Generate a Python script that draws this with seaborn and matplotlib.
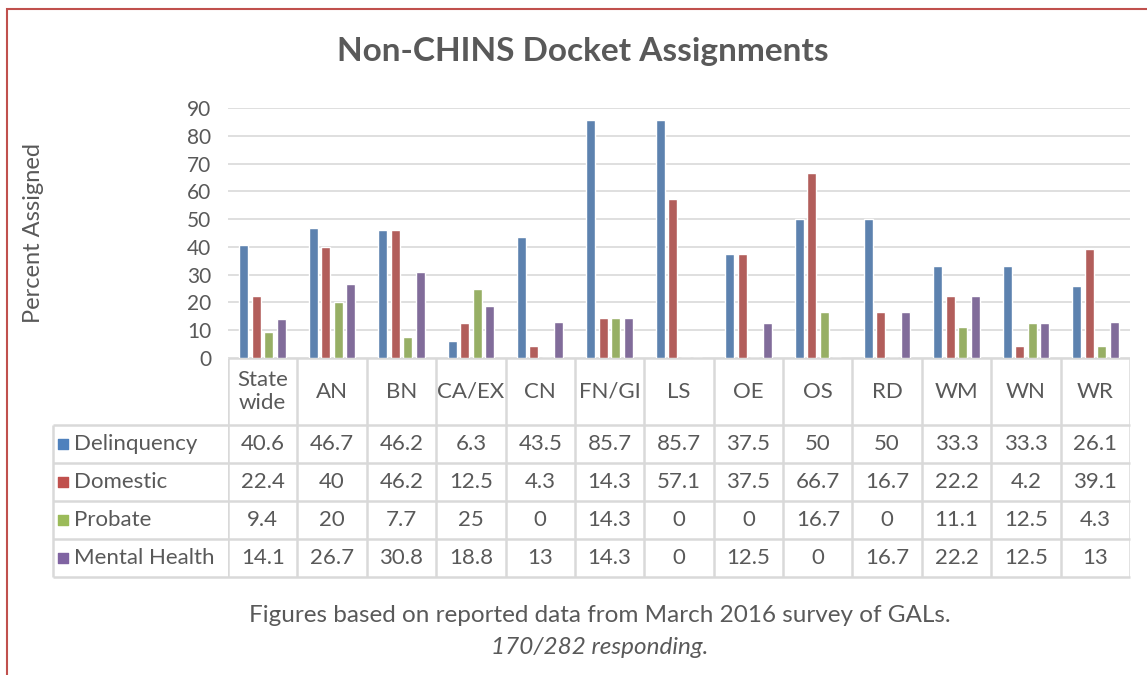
import pandas as pd
import matplotlib.pyplot as plt
import seaborn as sns
from matplotlib.patches import Rectangle

regions = ["State\nwide", "AN", "BN", "CA/EX", "CN", "FN/GI", "LS", "OE", "OS", "RD", "WM", "WN", "WR"]
series = ["Delinquency", "Domestic", "Probate", "Mental Health"]
delinquency = [40.6, 46.7, 46.2, 6.3, 43.5, 85.7, 85.7, 37.5, 50, 50, 33.3, 33.3, 26.1]
domestic = [22.4, 40, 46.2, 12.5, 4.3, 14.3, 57.1, 37.5, 66.7, 16.7, 22.2, 4.2, 39.1]
probate = [9.4, 20, 7.7, 25, 0, 14.3, 0, 0, 16.7, 0, 11.1, 12.5, 4.3]
mental_health = [14.1, 26.7, 30.8, 18.8, 13, 14.3, 0, 12.5, 0, 16.7, 22.2, 12.5, 13]
colors = ["#4F81BD", "#C0504D", "#9BBB59", "#8064A2"]

values = [delinquency, domestic, probate, mental_health]
df = pd.DataFrame({
    "Region": regions * 4,
    "Series": [s for s in series for _ in regions],
    "Value": [v for vals in values for v in vals],
})

sns.set_theme(style="white")
plt.rcParams["font.family"] = ["Lato", "DejaVu Sans"]
txt = "#595959"
grid = "#D9D9D9"

W, H = 1147, 675
fig = plt.figure(figsize=(W / 100, H / 100), dpi=100)
left, right, top, zero, tbot = 228, 1130, 108, 358, 577
ax = fig.add_axes([left / W, 1 - zero / H, (right - left) / W, (zero - top) / H])
sns.barplot(data=df, x="Region", y="Value", hue="Series", palette=colors,
            width=0.72, gap=0.28, ax=ax, legend=False)
ax.set_ylim(0, 90)
ax.set_yticks(range(0, 91, 10))
ax.yaxis.grid(True, color=grid, lw=1.2)
ax.set_axisbelow(True)
for s in ax.spines.values():
    s.set_visible(False)
ax.tick_params(axis="y", length=0, pad=12, labelsize=15, labelcolor=txt)
ax.set_xticks([])
ax.set_xlabel("")
ax.set_ylabel("Percent Assigned", fontsize=17, color=txt)
ax.yaxis.set_label_coords(-(left - 44) / (right - left), 0.5)
xmin, xmax = ax.get_xlim()

# data table under the bars
hh = 67 / 38
tax = fig.add_axes([left / W, 1 - tbot / H, (right - left) / W, (tbot - zero) / H])
tax.set_xlim(xmin, xmax)
tax.set_ylim(hh + 4, 0)
tax.axis("off")
colw = (right - left) / len(regions)
lx = xmin - (left - 53) / colw
tax.hlines([0], xmin, xmax, color=grid, lw=1.8)
tax.hlines([hh + i for i in range(5)], lx, xmax, color=grid, lw=1.8, clip_on=False)
tax.vlines([xmin + i for i in range(len(regions) + 1)], 0, hh + 4, color=grid, lw=1.8)
tax.vlines([lx], hh, hh + 4, color=grid, lw=1.8, clip_on=False)
for i, r in enumerate(regions):
    tax.text(i, hh / 2, r, ha="center", va="center", fontsize=16, color=txt, linespacing=1.2)
for j, (name, vals) in enumerate(zip(series, values)):
    yc = hh + j + 0.5
    tax.scatter([lx + 0.15], [yc], marker="s", s=60, color=colors[j], clip_on=False)
    tax.text(lx + 0.3, yc, name, ha="left", va="center", fontsize=16, color=txt, clip_on=False)
    for i, v in enumerate(vals):
        tax.text(i, yc, f"{v:g}", ha="center", va="center", fontsize=16, color=txt)

fig.text(583 / W, 1 - 52 / H, "Non-CHINS Docket Assignments", ha="center", va="center",
         fontsize=24, fontweight="bold", color=txt)
fig.text(600 / W, 1 - 615 / H, "Figures based on reported data from March 2016 survey of GALs.",
         ha="center", va="center", fontsize=17.5, color=txt)
fig.text(600 / W, 1 - 648 / H, "170/282 responding.", ha="center", va="center",
         fontsize=17.5, style="italic", color=txt)
fig.add_artist(Rectangle((7 / W, -0.05), 1.1, 1 - 9 / H + 0.05, transform=fig.transFigure,
                         fill=False, edgecolor="#C0504D", lw=1.5))

fig.savefig("out.png", dpi=100)
